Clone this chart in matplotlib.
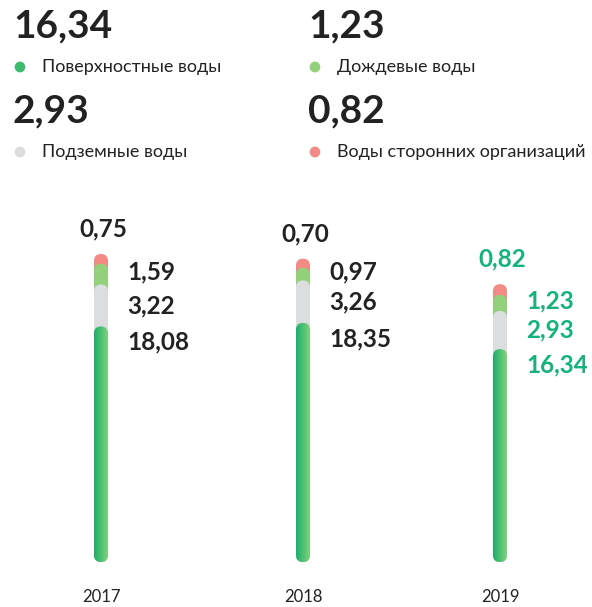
import matplotlib as mpl
mpl.use('Agg')
import matplotlib.pyplot as plt
from matplotlib.colors import LinearSegmentedColormap
from matplotlib.patches import FancyBboxPatch, Circle
import numpy as np

plt.rcParams['font.family'] = ['Lato', 'DejaVu Sans']

# data
years = ['2017', '2018', '2019']
surface = [18.08, 18.35, 16.34]
ground = [3.22, 3.26, 2.93]
rain = [1.59, 0.97, 1.23]
other = [0.75, 0.70, 0.82]

header_values = ['16,34', '1,23', '2,93', '0,82']
header_names = ['Поверхностные воды', 'Дождевые воды', 'Подземные воды', 'Воды сторонних организаций']

c_surface = '#3dba6c'
c_ground = '#dcdddf'
c_rain = '#92d07c'
c_other = '#f28b86'
c_text = '#222222'
c_green_text = '#15b37a'
grad = LinearSegmentedColormap.from_list('g', ['#1cae6c', '#7fd27a'])

W, H = 592, 607
fig = plt.figure(figsize=(W / 100, H / 100), dpi=100)

def fy(py):
    return 1 - py / H

def fmt(v):
    return f'{v:.2f}'.replace('.', ',')

# header block
hx = [13, 308, 13, 308]
hy = [26, 26, 111, 111]
ly = [67, 67, 152, 152]
hcol = [c_surface, c_rain, c_ground, c_other]
for i in range(4):
    fig.text(hx[i] / W, fy(hy[i]), header_values[i], fontsize=28, fontweight='bold',
             color=c_text, va='center', ha='left')
    fig.patches.append(Circle((hx[i] / W + 7 / W, fy(ly[i])), 4.6 / W,
                              transform=fig.transFigure, color=hcol[i]))
    fig.text(hx[i] / W + 29 / W, fy(ly[i]), header_names[i], fontsize=13,
             color=c_text, va='center', ha='left')

# chart axes in pixel units: bottom at 562 px, top at 200 px
k = 13.03  # px per unit
top_px, bot_px = 200, 562
ax = fig.add_axes([0, fy(bot_px), 1, (bot_px - top_px) / H])
ax.set_xlim(0, W)
ax.set_ylim(0, bot_px - top_px)
ax.axis('off')

xs = [101, 303, 500]
bw = 14
r = bw / 2

for i, x in enumerate(xs):
    s1 = surface[i] * k
    s2 = s1 + ground[i] * k
    s3 = s2 + rain[i] * k
    s4 = s3 + other[i] * k
    for top, col in [(s4, c_other), (s3, c_rain), (s2, c_ground)]:
        ax.add_patch(FancyBboxPatch((x - r, 0), bw, top, boxstyle=f'round,pad=0,rounding_size={r}',
                                    fc=col, ec='none'))
    clip = FancyBboxPatch((x - r, 0), bw, s1, boxstyle=f'round,pad=0,rounding_size={r}',
                          fc='none', ec='none')
    ax.add_patch(clip)
    im = ax.imshow(np.linspace(0, 1, 50).reshape(1, -1), cmap=grad, aspect='auto',
                   extent=[x - r, x + r, 0, s1], interpolation='bilinear', zorder=2)
    im.set_clip_path(clip)

    tc = c_green_text if i == 2 else c_text
    lx = x + 26
    fs = 17.5
    ax.text(x + 2, s4 + 25, fmt(other[i]), ha='center', va='center',
            fontsize=fs, fontweight='bold', color=tc)
    ax.text(lx, (s2 + s3) / 2 + 2, fmt(rain[i]), ha='left', va='center',
            fontsize=fs, fontweight='bold', color=tc)
    ax.text(lx, (s1 + s2) / 2, fmt(ground[i]), ha='left', va='center',
            fontsize=fs, fontweight='bold', color=tc)
    ax.text(lx, s1 - 16, fmt(surface[i]), ha='left', va='center',
            fontsize=fs, fontweight='bold', color=tc)
    fig.text(x / W, fy(597), years[i], ha='center', va='center', fontsize=12, color=c_text)

ax.set_xlim(0, W)
ax.set_ylim(0, bot_px - top_px)
fig.savefig('out.png', dpi=100)
